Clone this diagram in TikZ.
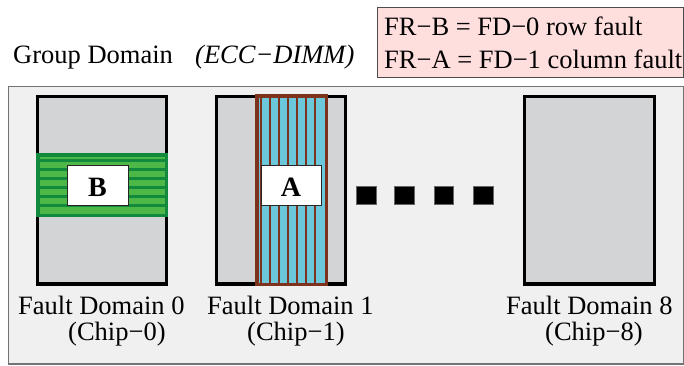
\documentclass[tikz,border=0pt]{standalone}
\usepackage{fontspec}
\setmainfont{Liberation Serif}
\definecolor{bggray}{RGB}{240,240,240}
\definecolor{chipgray}{RGB}{211,212,214}
\definecolor{lgreen}{RGB}{77,184,72}
\definecolor{dgreen}{RGB}{18,138,62}
\definecolor{cyanfill}{RGB}{107,200,218}
\definecolor{brownc}{RGB}{125,50,30}
\definecolor{pinkfill}{RGB}{255,222,222}
\tikzset{
  lbl/.style={inner sep=0pt, anchor=base west, font=\fontsize{26.5}{32}\selectfont},
  chipbox/.style={draw=black, line width=3.3pt, fill=chipgray},
  tagbox/.style={draw=black!85, line width=0.8pt, fill=white, inner sep=0pt,
                 font=\fontsize{28}{32}\selectfont\bfseries},
  dotbox/.style={fill=black, draw=black!60, line width=0.5pt},
}
\begin{document}
\begin{tikzpicture}[x=1pt,y=-1pt]
\useasboundingbox (0,0) rectangle (684,365);
% group domain frame
\draw[draw=black!55, line width=1.5pt, fill=bggray] (8.5,86.5) rectangle (683.5,364);
% legend
\node[draw=black!70, line width=1pt, fill=pinkfill, minimum width=306pt, minimum height=70pt, inner sep=0pt, anchor=north west] (legend) at (377,7) {};
\node[lbl] (leg1) at (384,35.7) {FR−B = FD−0 row fault};
\node[lbl] (leg2) at (384,68.3) {FR−A = FD−1 column fault};
% titles
\node[lbl] (gd) at (13,63) {Group Domain};
\node[lbl] (ecc) at (195,63) {\itshape (ECC−DIMM)};
% chips
\draw[chipbox] (37.7,96.2) rectangle (166.7,284);
\draw[chipbox] (216.7,96.2) rectangle (345.8,284);
\draw[chipbox] (524.7,96.2) rectangle (654.7,284);
% row fault band (green)
\fill[lgreen] (36,153) rectangle (168,217);
\foreach \yy in {160.5,169.5,178.5,187.5,196.5,205.5}
  \draw[dgreen, line width=2.4pt] (37,\yy) -- (167,\yy);
\draw[dgreen, line width=3.5pt] (37.75,154.75) rectangle (166.25,215.25);
% column fault band (cyan / brown)
\fill[cyanfill] (255,94) rectangle (328,286);
\foreach \xx in {260.5,269.5,278.5,287.5,296.5,305.5,314.5}
  \draw[brownc, line width=2pt] (\xx,95) -- (\xx,285);
\draw[brownc, line width=3.5pt] (256.75,95.75) rectangle (326.25,284.25);
% tags
\node[tagbox, minimum width=61pt, minimum height=40pt] (tagB) at (97.5,185) {};
\node[inner sep=0pt, anchor=base, font=\fontsize{28}{32}\selectfont\bfseries] (txtB) at (97.5,196) {B};
\node[tagbox, minimum width=60pt, minimum height=40pt] (tagA) at (291,185) {};
\node[inner sep=0pt, anchor=base, font=\fontsize{28}{32}\selectfont\bfseries] (txtA) at (291,196) {A};
% ellipsis squares
\draw[dotbox] (356,186) rectangle (376,204);
\draw[dotbox] (394.5,186) rectangle (414,204);
\draw[dotbox] (434,186) rectangle (453.5,204);
\draw[dotbox] (473,186) rectangle (493,204);
% labels
\node[lbl] (fd0) at (18,314) {Fault Domain 0};
\node[lbl] (cp0) at (68,340) {(Chip−0)};
\node[lbl] (fd1) at (207,314) {Fault Domain 1};
\node[lbl] (cp1) at (247,340) {(Chip−1)};
\node[lbl] (fd8) at (506,314) {Fault Domain 8};
\node[lbl] (cp8) at (545,340) {(Chip−8)};
\end{tikzpicture}
\end{document}
